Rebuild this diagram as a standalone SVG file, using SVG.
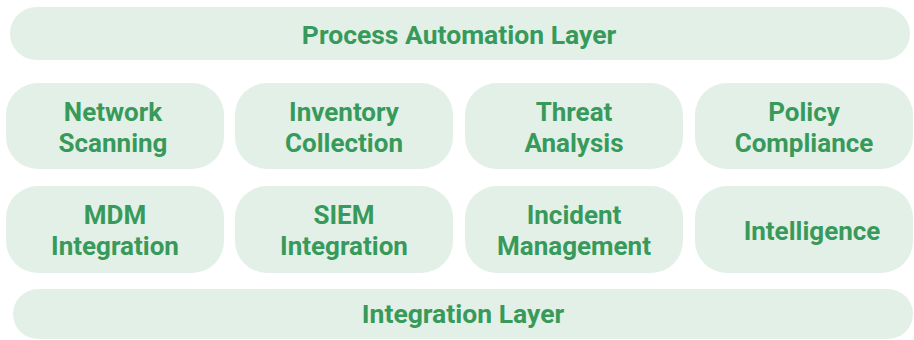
<svg xmlns="http://www.w3.org/2000/svg" width="914" height="340" viewBox="0 0 914 340">
  <style>
    .box { fill: #e3f0e7; }
    .lbl { font-family: Roboto, "Open Sans", "Liberation Sans", sans-serif; font-weight: 700; font-size: 26px; fill: #389a5a; text-anchor: middle; }
    .layer { font-size: 26.5px; }
  </style>
  <rect width="914" height="340" fill="#ffffff"/>
  <g id="process-automation-layer">
    <rect class="box" x="10" y="7" width="900" height="53" rx="26.5"/>
    <text class="lbl layer" x="459" y="44">Process Automation Layer</text>
  </g>
  <g id="network-scanning">
    <rect class="box" x="6" y="83" width="218" height="86" rx="32"/>
    <text class="lbl" x="113" y="121">Network</text>
    <text class="lbl" x="113" y="152">Scanning</text>
  </g>
  <g id="inventory-collection">
    <rect class="box" x="235" y="83" width="218" height="86" rx="32"/>
    <text class="lbl" x="344" y="121">Inventory</text>
    <text class="lbl" x="344" y="152">Collection</text>
  </g>
  <g id="threat-analysis">
    <rect class="box" x="465" y="83" width="218" height="86" rx="32"/>
    <text class="lbl" x="574" y="121">Threat</text>
    <text class="lbl" x="574" y="152">Analysis</text>
  </g>
  <g id="policy-compliance">
    <rect class="box" x="695" y="83" width="218" height="86" rx="32"/>
    <text class="lbl" x="804" y="121">Policy</text>
    <text class="lbl" x="804" y="152">Compliance</text>
  </g>
  <g id="mdm-integration">
    <rect class="box" x="6" y="186" width="218" height="87" rx="32"/>
    <text class="lbl" x="115" y="224">MDM</text>
    <text class="lbl" x="115" y="255">Integration</text>
  </g>
  <g id="siem-integration">
    <rect class="box" x="235" y="186" width="218" height="87" rx="32"/>
    <text class="lbl" x="344" y="224">SIEM</text>
    <text class="lbl" x="344" y="255">Integration</text>
  </g>
  <g id="incident-management">
    <rect class="box" x="465" y="186" width="218" height="87" rx="32"/>
    <text class="lbl" x="574" y="224">Incident</text>
    <text class="lbl" x="574" y="255">Management</text>
  </g>
  <g id="intelligence">
    <rect class="box" x="695" y="186" width="218" height="87" rx="32"/>
    <text class="lbl" x="812" y="240">Intelligence</text>
  </g>
  <g id="integration-layer">
    <rect class="box" x="13" y="289" width="900" height="50" rx="25"/>
    <text class="lbl layer" x="463" y="323">Integration Layer</text>
  </g>
  <g id="connectors"/>
</svg>
